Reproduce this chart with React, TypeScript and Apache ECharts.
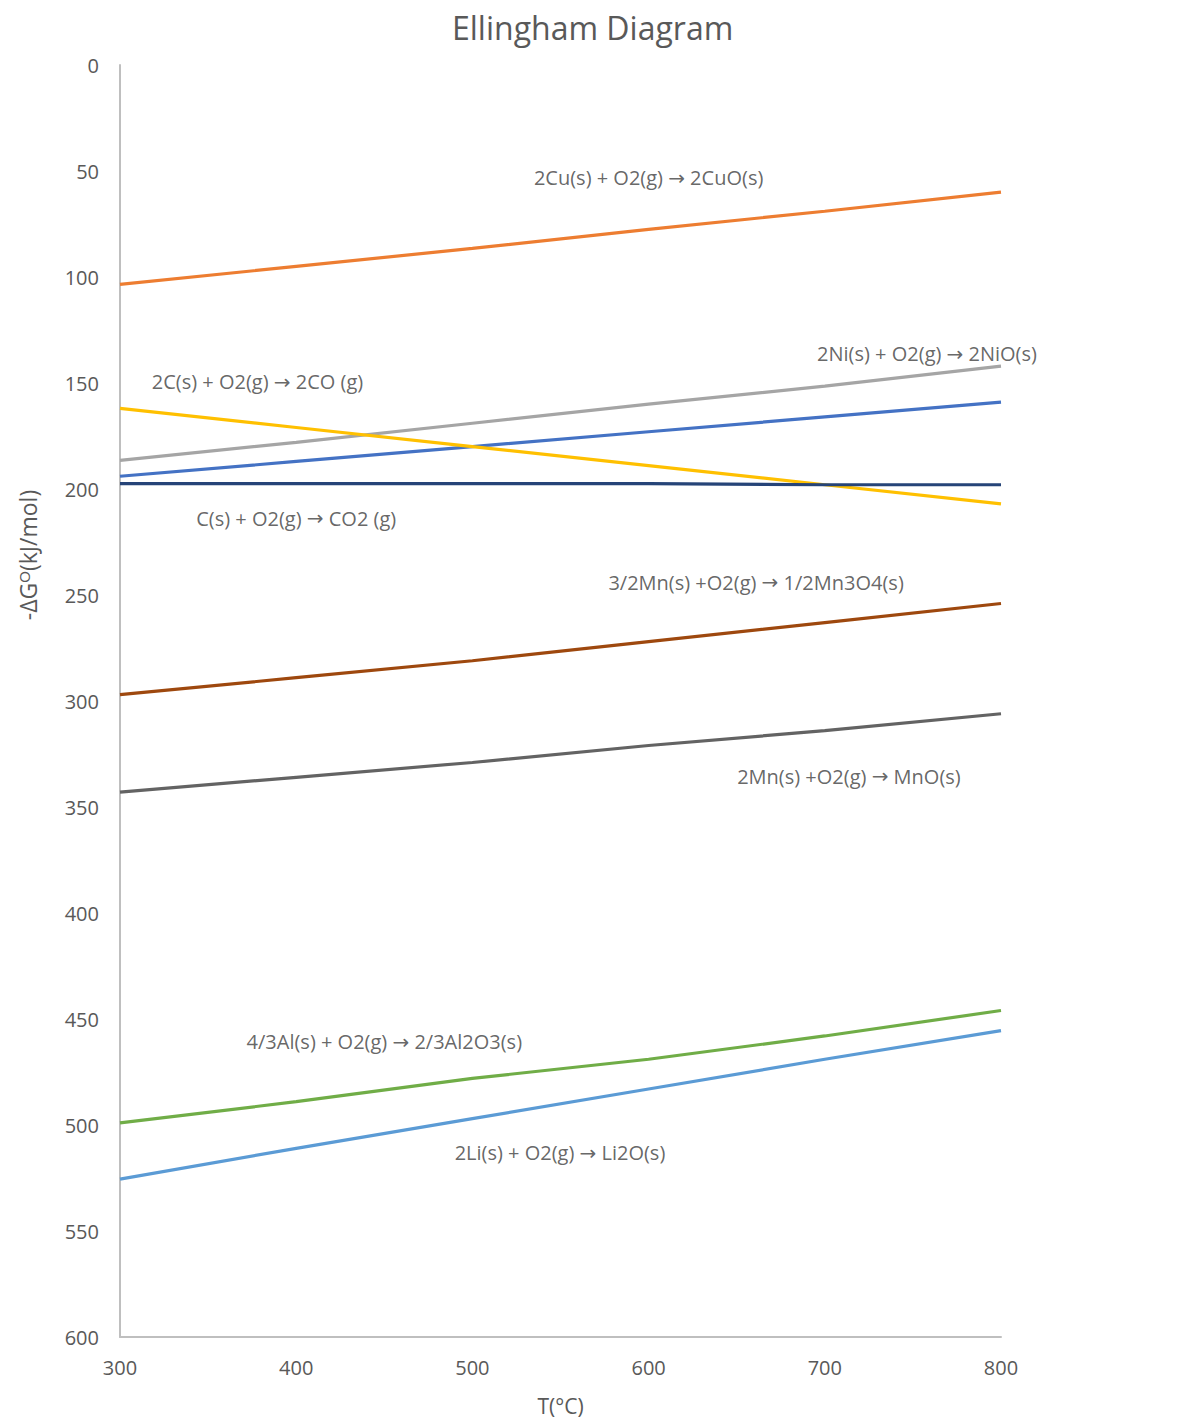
import React, { useEffect, useRef } from "react";
import * as echarts from "echarts";

const temps = [300, 400, 500, 600, 700, 800];
const cuO = [103.5, 95, 86.5, 77.5, 69, 60];
const niO = [186.5, 178, 169, 160, 151.5, 142];
const coO = [194, 187, 180, 173, 166, 159];
const co = [162, 171, 180, 189, 198, 207];
const co2 = [197.5, 197.5, 197.5, 197.5, 198, 198];
const mn3o4 = [297, 289, 281, 272, 263, 254];
const mnO = [343, 336, 329, 321, 314, 306];
const al2o3 = [499, 489, 478, 469, 458, 446];
const li2o = [525.5, 511, 497, 483, 469, 455.5];

const seriesNames = ["CuO", "NiO", "CoO", "CO", "CO2", "Mn3O4", "MnO", "Al2O3", "Li2O"];
const seriesValues = [cuO, niO, coO, co, co2, mn3o4, mnO, al2o3, li2o];
const seriesColors = ["#ED7D31", "#A5A5A5", "#4472C4", "#FFC000", "#264478", "#9E480E", "#636363", "#70AD47", "#5B9BD5"];

const labelTexts = [
  "2Cu(s) + O2(g) → 2CuO(s)",
  "2Ni(s) + O2(g) → 2NiO(s)",
  "2C(s) + O2(g) → 2CO (g)",
  "2Co(s) + O2(g) → 2CoO(s)",
  "C(s) + O2(g) → CO2 (g)",
  "3/2Mn(s) +O2(g) → 1/2Mn3O4(s)",
  "2Mn(s) +O2(g) → MnO(s)",
  "4/3Al(s) + O2(g) → 2/3Al2O3(s)",
  "2Li(s) + O2(g) → Li2O(s)",
];
const labelX = [600, 758, 378, 829.5, 400, 661, 713.7, 450, 549.7];
const labelY = [53.3, 136.3, 149.5, 170.3, 213.7, 243.9, 335.4, 460.8, 513.2];

const yTicks = [0, 600, 50];
const xTicks = [300, 800, 100];

const FONT = "'Open Sans', 'Noto Sans', sans-serif";

export default function App() {
  const ref = useRef<HTMLDivElement>(null);
  useEffect(() => {
    if (!ref.current) return;
    const chart = echarts.init(ref.current, undefined, { renderer: "svg" });
    const lineSeries = seriesNames.map((name, i) => ({
      name,
      type: "line",
      data: temps.map((t, j) => [t, seriesValues[i][j]]),
      showSymbol: false,
      symbol: "none",
      lineStyle: { color: seriesColors[i], width: 3.2 },
      itemStyle: { color: seriesColors[i] },
      z: 2,
    }));
    const labelSeries = {
      name: "labels",
      type: "scatter",
      symbolSize: 0,
      silent: true,
      data: labelTexts.map((t, i) => ({ value: [labelX[i], labelY[i]], name: t })),
      label: {
        show: true,
        position: "inside",
        formatter: (p: any) => String(p.name).split("→").join("{arr|→}"),
        fontFamily: FONT,
        fontSize: 20,
        color: "#404040",
        rich: {
          arr: { fontFamily: "'DejaVu Sans', sans-serif", fontSize: 20, color: "#404040" },
        },
      },
      z: 3,
    };
    chart.setOption({
      animation: false,
      backgroundColor: "#ffffff",
      textStyle: { fontFamily: FONT },
      title: {
        text: "Ellingham Diagram",
        left: 447,
        top: 6,
        textStyle: { fontFamily: FONT, fontSize: 32, fontWeight: "normal", color: "#595959" },
      },
      grid: { left: 120, right: 182, top: 65, bottom: 88, containLabel: false },
      xAxis: {
        type: "value",
        min: xTicks[0],
        max: xTicks[1],
        interval: xTicks[2],
        name: "T(°C)",
        nameLocation: "middle",
        nameGap: 58,
        nameTextStyle: { fontFamily: FONT, fontSize: 21, color: "#595959" },
        axisLine: { show: true, onZero: false, lineStyle: { color: "#BFBFBF", width: 2 } },
        axisTick: { show: false },
        splitLine: { show: false },
        axisLabel: { fontFamily: FONT, fontSize: 20, color: "#595959", margin: 20 },
      },
      yAxis: {
        type: "value",
        inverse: true,
        min: yTicks[0],
        max: yTicks[1],
        interval: yTicks[2],
        axisLine: { show: true, onZero: false, lineStyle: { color: "#BFBFBF", width: 2 } },
        axisTick: { show: false },
        splitLine: { show: false },
        axisLabel: { fontFamily: FONT, fontSize: 20, color: "#595959", margin: 21 },
      },
      graphic: [
        {
          type: "text",
          x: 28,
          y: 555,
          rotation: Math.PI / 2,
          style: {
            text: "-ΔG{sup|O}(kJ/mol)",
            fontFamily: FONT,
            fontSize: 23,
            fill: "#595959",
            align: "center",
            verticalAlign: "middle",
            rich: {
              sup: { fontSize: 15, fill: "#595959", verticalAlign: "top", padding: [0, 0, 8, 0] },
            },
          },
        },
      ],
      series: [...lineSeries, labelSeries],
    });
    return () => chart.dispose();
  }, []);
  return (
    <div
      ref={ref}
      style={{ position: "absolute", left: 0, top: 0, width: 1183, height: 1425 }}
    />
  );
}
